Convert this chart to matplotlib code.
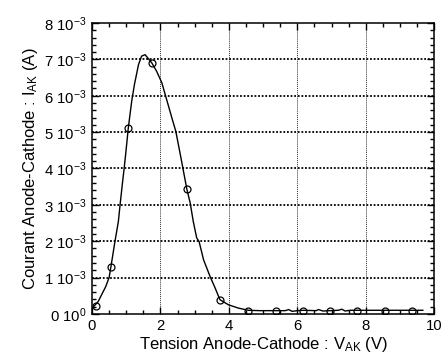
import matplotlib
matplotlib.use('Agg')
import matplotlib.pyplot as plt
from matplotlib.ticker import MultipleLocator, FuncFormatter

plt.rcParams['font.family'] = ['Liberation Sans', 'DejaVu Sans']
plt.rcParams['mathtext.default'] = 'regular'

# measured points (open circles)
vMarkers = [0.11, 0.55, 1.06, 1.75, 2.77, 3.74, 4.57, 5.38, 6.18, 6.96, 7.74, 8.57, 9.35]
iMarkers = [0.22e-3, 1.28e-3, 5.11e-3, 6.90e-3, 3.44e-3, 0.39e-3, 0.09e-3, 0.08e-3,
            0.09e-3, 0.08e-3, 0.09e-3, 0.09e-3, 0.09e-3]

# smoothed curve
vCurve = [0.0, 0.18, 0.40, 0.50, 0.55, 0.67, 0.77, 0.82, 0.89, 0.94, 0.99, 1.06, 1.16,
          1.24, 1.36, 1.45, 1.55, 1.63, 1.75, 1.89, 2.04, 2.18, 2.35, 2.45, 2.60, 2.77,
          2.87, 2.96, 3.06, 3.13, 3.26, 3.45, 3.60, 3.74, 3.99, 4.28, 4.57, 4.90, 5.38,
          5.65, 5.75, 5.85, 6.00, 6.18, 6.55, 6.62, 6.75, 6.96, 7.20, 7.30, 7.40, 7.55,
          7.74, 8.20, 8.57, 9.35, 9.67]
iCurve = [0.15e-3, 0.34e-3, 0.75e-3, 1.00e-3, 1.28e-3, 1.99e-3, 2.54e-3, 3.00e-3,
          3.60e-3, 4.01e-3, 4.45e-3, 5.11e-3, 5.85e-3, 6.31e-3, 6.86e-3, 7.09e-3,
          7.13e-3, 7.04e-3, 6.90e-3, 6.67e-3, 6.36e-3, 5.90e-3, 5.34e-3, 5.02e-3,
          4.29e-3, 3.44e-3, 3.05e-3, 2.54e-3, 2.09e-3, 1.99e-3, 1.49e-3, 1.03e-3,
          0.71e-3, 0.39e-3, 0.25e-3, 0.16e-3, 0.10e-3, 0.09e-3, 0.09e-3, 0.09e-3,
          0.12e-3, 0.07e-3, 0.09e-3, 0.10e-3, 0.09e-3, 0.12e-3, 0.08e-3, 0.09e-3,
          0.10e-3, 0.13e-3, 0.08e-3, 0.10e-3, 0.10e-3, 0.10e-3, 0.10e-3, 0.10e-3,
          0.10e-3]

xGrid = [2, 4, 6, 8]
yGrid = [1e-3, 2e-3, 3e-3, 4e-3, 5e-3, 6e-3, 7e-3]

fig = plt.figure(figsize=(4.43, 3.6), dpi=100)
ax = fig.add_axes([0.2077, 0.128, 0.7723, 0.808])

for g in xGrid:
    ax.axvline(g, color='#333333', lw=0.7, ls=(0, (1, 1)), zorder=1)
for g in yGrid:
    ax.axhline(g, color='black', lw=1.3, ls=(0, (1, 1)), zorder=1)

ax.plot(vCurve, iCurve, color='black', lw=1.0, zorder=3)
ax.plot(vMarkers, iMarkers, ls='none', marker='o', mfc='none', mec='black',
        ms=5, mew=0.9, zorder=4)

ax.set_xlim(0, 10)
ax.set_ylim(0, 8e-3)
ax.xaxis.set_major_locator(MultipleLocator(2))
ax.xaxis.set_minor_locator(MultipleLocator(0.5))
ax.yaxis.set_major_locator(MultipleLocator(1e-3))
ax.yaxis.set_minor_locator(MultipleLocator(0.2e-3))

def yfmt(v, pos):
    n = int(round(v / 1e-3))
    if n == 0:
        return r'0 10$^{0}$'
    return r'%d 10$^{-3}$' % n

ax.yaxis.set_major_formatter(FuncFormatter(yfmt))
ax.tick_params(which='both', direction='in', top=True, right=True, labelsize=10.7, width=1)
ax.tick_params(which='major', length=5, pad=4)
ax.tick_params(which='minor', length=3)
for s in ax.spines.values():
    s.set_linewidth(1.1)

ax.set_xlabel(r'Tension Anode-Cathode : $V_{AK}$ (V)', fontsize=12, labelpad=1)
ax.set_ylabel(r'Courant Anode-Cathode : $I_{AK}$ (A)', fontsize=12, labelpad=3)

fig.savefig('out.png', dpi=100)
